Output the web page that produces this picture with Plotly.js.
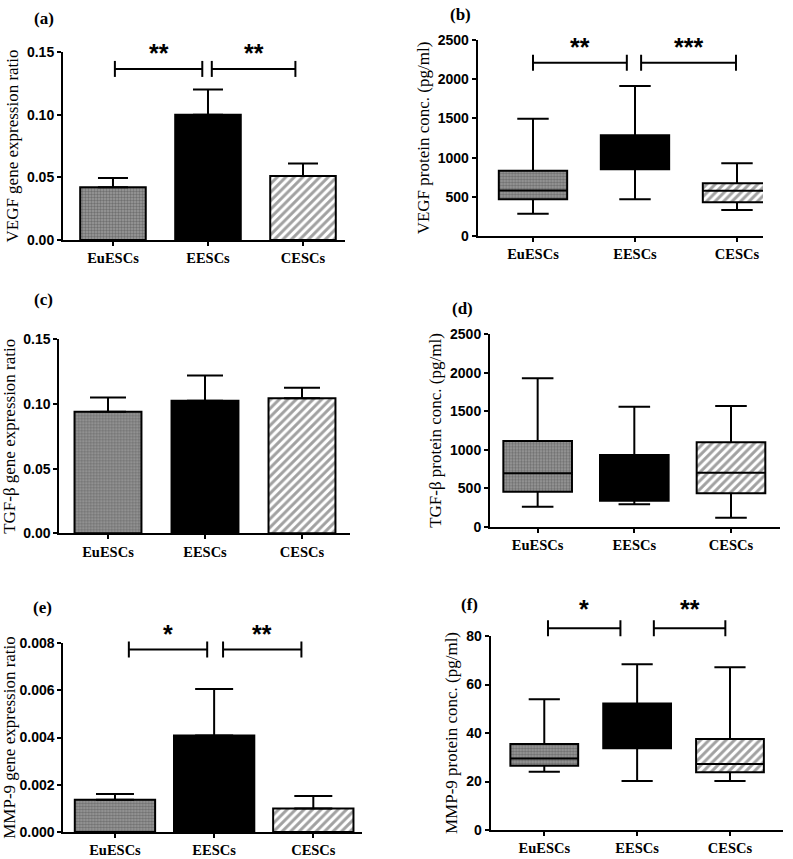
<!DOCTYPE html>
<html>
<head>
<meta charset="utf-8">
<script src="https://cdn.plot.ly/plotly-3.0.1.min.js"></script>
<style>html,body{margin:0;padding:0;background:#fff}#chart{width:793px;height:859px}</style>
</head>
<body>
<div id="chart"></div>
<script>
// ---------- DATA ----------
const categories = ['EuESCs', 'EESCs', 'CESCs'];

// (a) VEGF gene expression ratio: mean and upper SD
const vegfGeneMean = [0.042, 0.100, 0.051];
const vegfGeneSD   = [0.0075, 0.020, 0.0100];

// (c) TGF-β gene expression ratio
const tgfGeneMean = [0.094, 0.1025, 0.1045];
const tgfGeneSD   = [0.011, 0.0195, 0.008];

// (e) MMP-9 gene expression ratio
const mmpGeneMean = [0.00137, 0.00408, 0.00099];
const mmpGeneSD   = [0.00024, 0.00197, 0.00053];

// (b) VEGF protein conc. (pg/ml): box summaries
const vegfProtMin = [284, 468, 332];
const vegfProtQ1  = [468, 850, 430];
const vegfProtMed = [580, 1050, 578];
const vegfProtQ3  = [833, 1284, 672];
const vegfProtMax = [1495, 1913, 927];

// (d) TGF-β protein conc. (pg/ml)
const tgfProtMin = [260, 291, 117];
const tgfProtQ1  = [455, 338, 434];
const tgfProtMed = [694, 550, 702];
const tgfProtQ3  = [1114, 932, 1097];
const tgfProtMax = [1929, 1560, 1568];

// (f) MMP-9 protein conc. (pg/ml)
const mmpProtMin = [24.0, 20.2, 20.2];
const mmpProtQ1  = [26.5, 33.7, 23.8];
const mmpProtMed = [29.5, 40.0, 27.2];
const mmpProtQ3  = [35.5, 52.2, 37.5];
const mmpProtMax = [53.9, 68.3, 67.1];

// significance brackets: [from, to] in category index units, level, label
const sigA = {from: [0.02, 1.04], to: [0.94, 1.92], level: 0.1365, labels: ['**', '**']};
const sigB = {from: [0.00, 1.06], to: [0.92, 1.99], level: 2210, labels: ['**', '***']};
const sigE = {from: [0.14, 1.09], to: [0.93, 1.88], level: 0.00772, labels: ['*', '**']};
const sigF = {from: [0.04, 1.18], to: [0.82, 1.95], level: 83.2, labels: ['*', '**']};

// ---------- STYLE / LAYOUT ----------
const W = 793, H = 859;
const fx = p => p / W;
const fy = p => 1 - p / H;

const fills = ['#9c9c9c', 'black', 'white'];
const patShapes = ['.', '', '/'];
const patSizes = [3, 5, 6];
const patSolid = [0.5, 0.4, 0.5];

const tickFontY = {family: 'Liberation Sans, Arial, sans-serif', size: 14, color: '#000', weight: 'bold'};
const tickFontX = {family: 'Liberation Serif, Times New Roman, serif', size: 14.5, color: '#000', weight: 'bold'};
const titleFont = {family: 'Liberation Serif, Times New Roman, serif', size: 17, color: '#000'};

// panel geometry in pixels (plot area), category range
const panels = [
  {n: '',  L: 63,    R: 345, B: 240,   T: 52,    r: [-0.526, 2.442], yr: [0, 0.15],  dt: 0.05,  fmt: '.2f', title: 'VEGF gene expression ratio'},
  {n: '2', L: 477.7, R: 763, B: 236,   T: 40,    r: [-0.542, 2.255], yr: [0, 2500],  dt: 500,   fmt: 'd',   title: 'VEGF protein conc. (pg/ml)'},
  {n: '3', L: 59.3,  R: 350, B: 533.3, T: 339.3, r: [-0.502, 2.495], yr: [0, 0.15],  dt: 0.05,  fmt: '.2f', title: 'TGF-β gene expression ratio'},
  {n: '4', L: 490,   R: 780, B: 526.7, T: 334.3, r: [-0.493, 2.507], yr: [0, 2500],  dt: 500,   fmt: 'd',   title: 'TGF-β protein conc. (pg/ml)'},
  {n: '5', L: 63.3,  R: 361.7, B: 832, T: 643,   r: [-0.521, 2.488], yr: [0, 0.008], dt: 0.002, fmt: '.3f', title: 'MMP-9 gene expression ratio'},
  {n: '6', L: 490.7, R: 783, B: 830,   T: 636,   r: [-0.577, 2.571], yr: [0, 80],    dt: 20,    fmt: 'd',   title: 'MMP-9 protein conc. (pg/ml)'}
];

const layout = {
  width: W, height: H,
  margin: {l: 0, r: 0, t: 0, b: 0},
  paper_bgcolor: 'white', plot_bgcolor: 'rgba(0,0,0,0)',
  showlegend: false,
  shapes: [], annotations: []
};

panels.forEach(p => {
  const xk = 'xaxis' + p.n, yk = 'yaxis' + p.n;
  layout[xk] = {
    domain: [fx(p.L), fx(p.R)], anchor: 'y' + p.n, type: 'category',
    range: p.r, showline: true, linewidth: 2, linecolor: '#000',
    ticks: 'outside', ticklen: 4, tickwidth: 2, tickcolor: '#000',
    showgrid: false, zeroline: false, tickfont: tickFontX, fixedrange: true
  };
  layout[yk] = {
    domain: [fy(p.B), fy(p.T)], anchor: 'x' + p.n, range: p.yr,
    dtick: p.dt, tick0: 0, tickformat: p.fmt,
    showline: true, linewidth: 2, linecolor: '#000',
    ticks: 'outside', ticklen: 4, tickwidth: 2, tickcolor: '#000',
    showgrid: false, zeroline: false, tickfont: tickFontY, fixedrange: true,
    title: {text: p.title, font: titleFont, standoff: 4}
  };
});

// helper (invisible) y axes, taller than the plot, so brackets above the axis top are not clipped
let helperIdx = 7;
function addBrackets(pi, sig, starShift) {
  const p = panels[pi];
  const extra = Math.min(50, p.T);
  const hid = String(helperIdx++);
  const topPx = p.T - extra;
  const scale = (p.yr[1] - p.yr[0]) / (p.B - p.T);
  layout['yaxis' + hid] = {
    domain: [fy(p.B), fy(topPx)], anchor: 'x' + p.n,
    range: [p.yr[0], p.yr[0] + scale * (p.B - topPx)],
    visible: false, fixedrange: true
  };
  const xr = 'x' + p.n, yr = 'y' + hid;
  const ln = {color: '#000', width: 2};
  sig.from.forEach((x0, i) => {
    const x1 = sig.to[i];
    layout.shapes.push({type: 'line', xref: xr, yref: yr, x0: x0, x1: x1, y0: sig.level, y1: sig.level, line: ln});
    [x0, x1].forEach(xe => layout.shapes.push({
      type: 'line', xref: xr, yref: yr, x0: xe, x1: xe,
      ysizemode: 'pixel', yanchor: sig.level, y0: -8, y1: 8, line: ln
    }));
    layout.annotations.push({
      xref: xr, yref: yr, x: (x0 + x1) / 2, y: sig.level, yshift: starShift,
      text: sig.labels[i], showarrow: false, yanchor: 'middle',
      font: {family: 'Liberation Sans, Arial, sans-serif', size: 25, color: '#000', weight: 'bold'}
    });
  });
}
addBrackets(0, sigA, 16);
addBrackets(1, sigB, 16);
addBrackets(4, sigE, 16);
addBrackets(5, sigF, 19);

// panel letters
const letters = [['(a)', 44, 19], ['(b)', 460, 15], ['(c)', 43, 299], ['(d)', 462, 308], ['(e)', 42, 607], ['(f)', 470, 604]];
letters.forEach(([t, x, y]) => layout.annotations.push({
  xref: 'paper', yref: 'paper', x: fx(x), y: fy(y), text: t, showarrow: false,
  xanchor: 'center', yanchor: 'middle',
  font: {family: 'Liberation Serif, Times New Roman, serif', size: 17, color: '#000', weight: 'bold'}
}));

// ---------- TRACES ----------
const pattern = {shape: patShapes, fgcolor: '#000', size: patSizes, solidity: patSolid, fillmode: 'overlay'};

function barTrace(n, mean, sd, width, capw) {
  return {
    type: 'bar', x: categories, y: mean, width: width,
    xaxis: 'x' + n, yaxis: 'y' + n, hoverinfo: 'skip',
    marker: {color: fills, line: {color: '#000', width: 2}, pattern: pattern},
    error_y: {type: 'data', array: sd, arrayminus: sd.map(() => 0), symmetric: false,
              color: '#000', thickness: 2, width: capw}
  };
}
function boxTraces(n, mn, q1, med, q3, mx, width, ww) {
  return [
    {
      type: 'bar', x: categories, base: q1, y: q3.map((v, i) => v - q1[i]), width: width,
      xaxis: 'x' + n, yaxis: 'y' + n, hoverinfo: 'skip',
      marker: {color: fills, line: {width: 0}, pattern: pattern}
    },
    {
      type: 'box', x: categories, q1: q1, median: med, q3: q3, lowerfence: mn, upperfence: mx,
      width: width, whiskerwidth: ww, boxpoints: false,
      xaxis: 'x' + n, yaxis: 'y' + n, hoverinfo: 'skip',
      line: {color: '#000', width: 2}, fillcolor: 'rgba(0,0,0,0)'
    }
  ];
}

const data = [
  barTrace('', vegfGeneMean, vegfGeneSD, 0.69, 15),
  ...boxTraces('2', vegfProtMin, vegfProtQ1, vegfProtMed, vegfProtQ3, vegfProtMax, 0.67, 0.46),
  barTrace('3', tgfGeneMean, tgfGeneSD, 0.69, 18),
  ...boxTraces('4', tgfProtMin, tgfProtQ1, tgfProtMed, tgfProtQ3, tgfProtMax, 0.71, 0.46),
  barTrace('5', mmpGeneMean, mmpGeneSD, 0.81, 19),
  ...boxTraces('6', mmpProtMin, mmpProtQ1, mmpProtMed, mmpProtQ3, mmpProtMax, 0.73, 0.46)
];

Plotly.newPlot('chart', data, layout, {staticPlot: true, displayModeBar: false});
</script>
</body>
</html>
